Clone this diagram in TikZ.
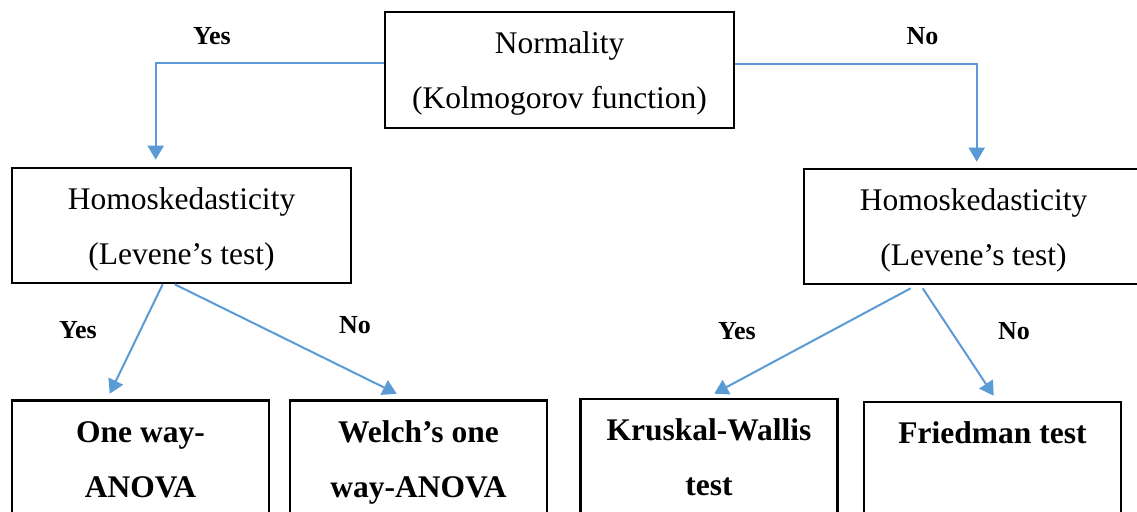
\documentclass[tikz,border=0pt]{standalone}
\usepackage{fontspec}
\setmainfont{Liberation Serif}
\usetikzlibrary{arrows.meta,calc}
\definecolor{flowblue}{HTML}{5B9BD5}
\tikzset{
  box/.style={draw=black, line width=2.6pt, rectangle, inner sep=0pt,
    font=\fontsize{31.5}{55}\selectfont},
  result/.style={box, minimum width=257pt, font=\fontsize{31.5}{55}\selectfont\bfseries},
  flow/.style={draw=flowblue, line width=2pt, -{Triangle[width=16pt,length=14pt]}},
  answer/.style={font=\fontsize{26}{30}\selectfont\bfseries, inner sep=0pt, anchor=base},
}
\begin{document}
\begin{tikzpicture}[x=1pt,y=-1pt]
\useasboundingbox (0,0) rectangle (1137,511);
\clip (0,0) rectangle (1137,511);
\fill[white] (0,0) rectangle (1137,511);

% decision boxes
\node[box, minimum width=349pt, minimum height=116pt] (norm) at (559.5,70)
  {\begin{tabular}[t]{c}Normality\\(Kolmogorov function)\end{tabular}};
\node[box, minimum width=339pt, minimum height=115pt] (hl) at (181.5,225.5)
  {\begin{tabular}[t]{c}Homoskedasticity\\(Levene’s test)\end{tabular}};
\node[box, minimum width=339pt, minimum height=115pt] (hr) at (973.5,226.5)
  {\begin{tabular}[t]{c}Homoskedasticity\\(Levene’s test)\end{tabular}};

% resulting tests
\node[result, minimum height=116pt] (b1) at (140.5,458.5)
  {\begin{tabular}[t]{c}One way-\\ANOVA\end{tabular}};
\node[result, minimum height=116pt] (b2) at (418.5,458.5)
  {\begin{tabular}[t]{c}Welch’s one\\way-ANOVA\end{tabular}};
\node[result, minimum height=115pt] (b3) at (709,456.5)
  {\begin{tabular}[t]{c}Kruskal-Wallis\\test\end{tabular}};
\node[result, minimum height=115pt] (b4) at (992.5,459.5)
  {\begin{tabular}[t]{c}Friedman test\\\mbox{}\end{tabular}};

% connectors
\draw[flow] ($(norm.west)+(0,-7)$) -| ($(hl.north west)+(145,-7)$);
\draw[flow] ($(norm.east)+(0,-6)$) -| ($(hr.north west)+(174,-6)$);
\draw[flow] ($(hl.south west)+(152,0)$) -- ($(b1.north west)+(99,-5.5)$);
\draw[flow] ($(hl.south west)+(164,0)$) -- ($(b2.north west)+(108,-5.5)$);
\draw[flow] ($(hr.south west)+(108,3)$) -- ($(b3.north west)+(135,-4)$);
\draw[flow] ($(hr.south west)+(120,3)$) -- ($(b4.north west)+(131,-5)$);

% branch labels
\node[answer] (yes1) at (212,45) {Yes};
\node[answer] (no1) at (922.5,45) {No};
\node[answer] (yes2) at (78,338) {Yes};
\node[answer] (no2) at (355,333) {No};
\node[answer] (yes3) at (737,339) {Yes};
\node[answer] (no3) at (1014,339) {No};
\end{tikzpicture}
\end{document}
